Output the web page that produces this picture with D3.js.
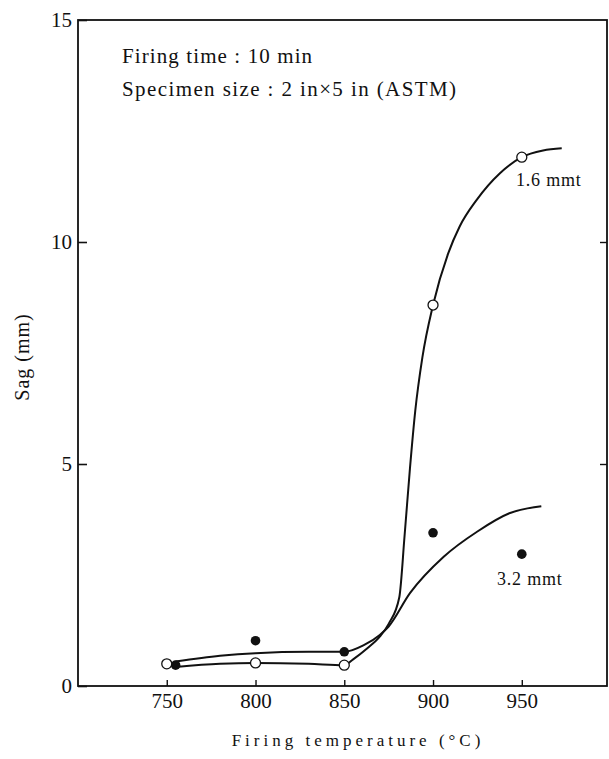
<!DOCTYPE html>
<html>
<head>
<meta charset="utf-8">
<script src="https://cdn.jsdelivr.net/npm/d3@7"></script>
<style>
  body { margin: 0; background: #fff; }
  svg { display: block; }
  text { font-family: "Liberation Serif", "DejaVu Serif", "Times New Roman", serif; fill: #111; }
</style>
</head>
<body>
<svg id="chart" width="609" height="759"></svg>
<script>
// tick values
var tempTicks = [750, 800, 850, 900, 950];
var sagTicks = [0, 5, 10, 15];

// measured points, 1.6 mmt (open) and 3.2 mmt (filled)
var open16T = [750, 800, 850, 900, 950];
var open16V = [0.50, 0.52, 0.47, 8.58, 11.91];
var filled32T = [755, 800, 850, 900, 950];
var filled32V = [0.47, 1.02, 0.77, 3.45, 2.97];

// hand drawn curves, knots
var curve16T = [755, 780, 800, 830, 850, 855, 863, 870, 875, 881, 884, 887, 890, 894, 900, 908.6, 915, 924.6, 937.7, 950, 962, 972.5];
var curve16V = [0.43, 0.50, 0.52, 0.50, 0.47, 0.60, 0.85, 1.11, 1.40, 2.00, 3.40, 4.90, 6.20, 7.40, 8.58, 9.75, 10.35, 10.95, 11.55, 11.91, 12.06, 12.11];
var curve32T = [755, 780, 800, 830, 850, 861, 870, 875, 887, 906, 925, 943, 961];
var curve32V = [0.55, 0.68, 0.74, 0.77, 0.77, 0.92, 1.15, 1.34, 2.09, 2.91, 3.48, 3.89, 4.05];

var svg = d3.select("#chart");

var x = d3.scaleLinear().domain([700, 998]).range([78, 607]);
var y = d3.scaleLinear().domain([0, 15]).range([686, 20]);

// frame
svg.append("rect")
    .attr("x", x.range()[0]).attr("y", y.range()[1])
    .attr("width", x.range()[1] - x.range()[0])
    .attr("height", y.range()[0] - y.range()[1])
    .attr("fill", "none").attr("stroke", "#111").attr("stroke-width", 1.8);

var yAxis = svg.append("g").attr("transform", "translate(" + x.range()[0] + ",0)")
    .call(d3.axisLeft(y).tickValues(sagTicks).tickSize(-9).tickPadding(6).tickFormat(d3.format("d")));
yAxis.select(".domain").remove();
yAxis.selectAll("line").attr("stroke", "#111").attr("stroke-width", 1.6);
yAxis.selectAll("text").attr("font-size", 21);

var yRight = svg.append("g").attr("transform", "translate(" + x.range()[1] + ",0)")
    .call(d3.axisRight(y).tickValues([5, 10]).tickSize(-7).tickFormat(""));
yRight.select(".domain").remove();
yRight.selectAll("line").attr("stroke", "#111").attr("stroke-width", 1.4);

var xAxis = svg.append("g").attr("transform", "translate(0," + y.range()[0] + ")")
    .call(d3.axisBottom(x).tickValues(tempTicks).tickSize(-6).tickPadding(7).tickFormat(d3.format("d")));
xAxis.select(".domain").remove();
xAxis.selectAll("line").attr("stroke", "#111").attr("stroke-width", 1.4);
xAxis.selectAll("text").attr("font-size", 21);

// axis titles
svg.append("text")
    .attr("x", 358).attr("y", 746)
    .attr("text-anchor", "middle")
    .attr("font-size", 17).attr("letter-spacing", 4)
    .text("Firing temperature (°C)");

svg.append("text")
    .attr("transform", "translate(29,357) rotate(-90)")
    .attr("text-anchor", "middle")
    .attr("font-size", 20).attr("letter-spacing", 1)
    .text("Sag (mm)");

// notes
svg.append("text").attr("x", 122).attr("y", 63)
    .attr("font-size", 21).attr("letter-spacing", 1.1)
    .text("Firing time : 10 min");
svg.append("text").attr("x", 122).attr("y", 96)
    .attr("font-size", 21).attr("letter-spacing", 1.4)
    .text("Specimen size : 2 in×5 in (ASTM)");

// curves
var line = d3.line()
    .x(function(d){ return x(d[0]); })
    .y(function(d){ return y(d[1]); })
    .curve(d3.curveMonotoneX);

svg.append("path")
    .datum(d3.zip(curve32T, curve32V))
    .attr("d", line)
    .attr("fill", "none").attr("stroke", "#111").attr("stroke-width", 2);

svg.append("path")
    .datum(d3.zip(curve16T, curve16V))
    .attr("d", line)
    .attr("fill", "none").attr("stroke", "#111").attr("stroke-width", 2);

// points
svg.selectAll(".filled")
    .data(d3.zip(filled32T, filled32V))
    .enter()
    .append("circle")
    .attr("class", "filled")
    .attr("cx", function(d){ return x(d[0]); })
    .attr("cy", function(d){ return y(d[1]); })
    .attr("r", 4.8)
    .attr("fill", "#111");

svg.selectAll(".open")
    .data(d3.zip(open16T, open16V))
    .enter()
    .append("circle")
    .attr("class", "open")
    .attr("cx", function(d){ return x(d[0]); })
    .attr("cy", function(d){ return y(d[1]); })
    .attr("r", 5)
    .attr("fill", "#fff")
    .attr("stroke", "#111")
    .attr("stroke-width", 1.3);

// series labels
svg.append("text").attr("x", 516).attr("y", 186)
    .attr("font-size", 18).attr("letter-spacing", 0.8)
    .text("1.6 mmt");
svg.append("text").attr("x", 497).attr("y", 585)
    .attr("font-size", 18).attr("letter-spacing", 0.8)
    .text("3.2 mmt");
</script>
</body>
</html>
